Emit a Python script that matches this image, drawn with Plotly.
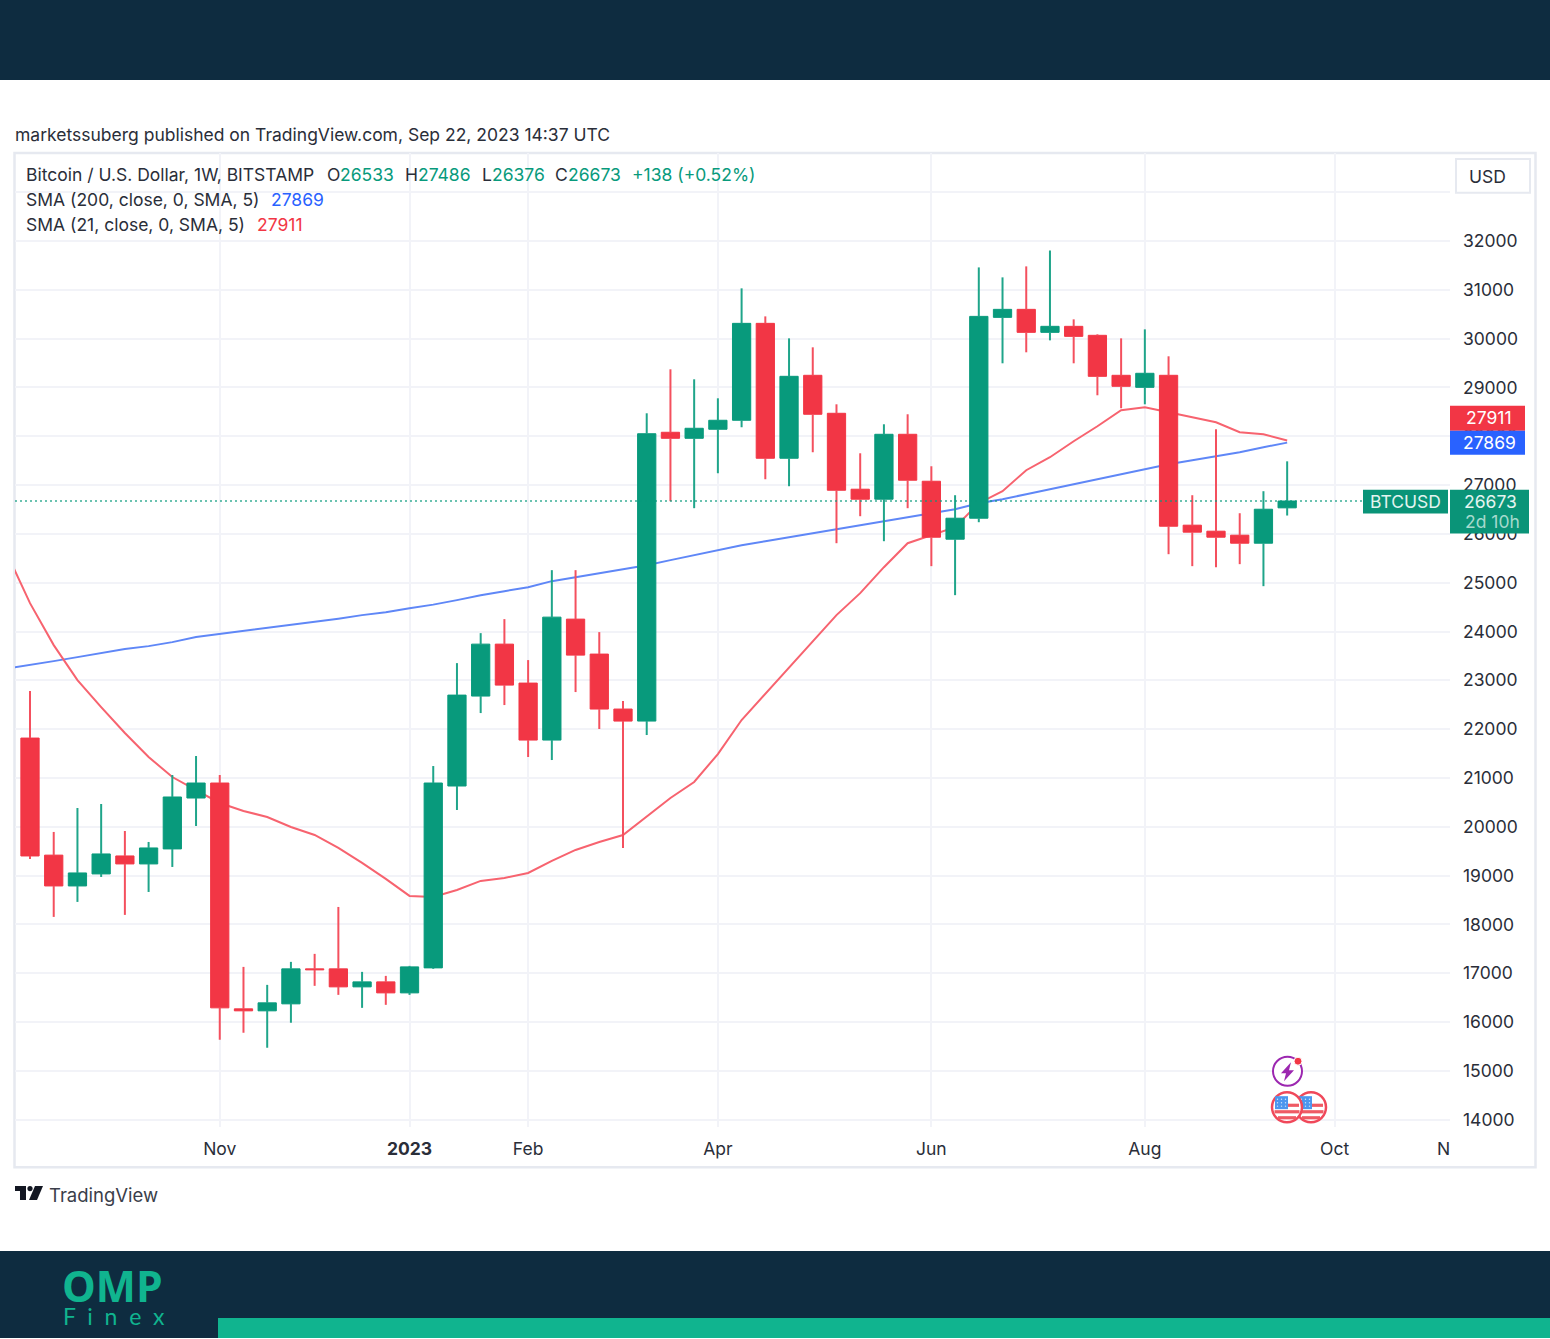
import pandas as pd
import plotly.graph_objects as go

W, H = 1550, 1339
first_week = "2022-09-12"
opens = [21818,19420,18789,19035,19403,19240,19547,20590,20897,16272,16231,16374,17091,17091,16722,16824,16599,17111,20836,22678,23742,22944,21777,24254,23538,22412,22166,28081,27958,28143,28327,30312,27549,29248,28470,26915,26710,28040,27078,25891,26321,30435,30599,30128,30251,30067,29248,29002,29248,26178,26055,25973,25809,26533]
highs = [22780,19895,20386,20468,19915,19690,21061,21450,21061,17131,16763,17234,17398,18359,17029,16947,17152,21245,23353,23967,24254,23415,25257,25257,23988,22576,28470,29371,29166,28777,31029,30455,30005,29821,28654,27651,28245,28450,27385,26792,31458,31254,31479,31806,30394,30087,30005,30189,29637,26792,28143,26423,26874,27486]
lows = [19342,18155,18462,18973,18196,18666,19178,20017,15637,15781,15474,15985,16743,16558,16292,16354,16558,17091,20345,22330,22494,21430,21368,22760,22003,19567,21880,26669,26526,27242,28184,27119,26976,27672,25809,26362,25850,26526,25339,24745,26239,29494,29719,29964,29494,28839,28573,28654,25584,25339,25318,25380,24929,26376]
closes = [19403,18789,19055,19444,19240,19567,20611,20897,16292,16231,16395,17091,17070,16722,16824,16599,17131,20897,22698,23742,22903,21777,24295,23517,22412,22166,28051,27958,28163,28327,30312,27549,29227,28450,26894,26710,28040,27099,25932,26321,30455,30599,30128,30251,30046,29227,29023,29289,26157,26035,25932,25809,26505,26673]

# Moving averages start one week before the first visible candle
sma21 = [25625,24581,23722,23005,22453,21921,21430,21020,20754,20488,20324,20202,19997,19833,19567,19260,18933,18585,18564,18707,18892,18953,19055,19301,19526,19690,19833,20202,20590,20918,21491,22187,22719,23272,23804,24336,24786,25318,25809,25973,26137,26628,26874,27304,27570,27897,28204,28532,28593,28491,28388,28286,28081,28040,27911]
sma200 = [23241,23312,23394,23476,23558,23640,23701,23783,23886,23947,24008,24070,24131,24193,24264,24336,24397,24479,24551,24643,24745,24827,24909,25032,25114,25195,25277,25359,25462,25564,25666,25769,25850,25932,26014,26096,26178,26260,26342,26423,26505,26628,26710,26812,26915,27017,27119,27222,27324,27426,27508,27590,27672,27774,27869]

price_ticks = list(range(14000, 34000, 1000))
price_labels = [str(p) if p != 33000 else "" for p in price_ticks]
month_ticks = ["2022-11-07", "2023-01-02", "2023-02-06", "2023-04-03", "2023-06-05", "2023-08-07", "2023-10-02"]
month_labels = ["Nov", "<b>2023</b>", "Feb", "Apr", "Jun", "Aug", "Oct"]

GREEN, RED, BLUE = "#089A7C", "#F23645", "#2962FF"
TXT = "#2A2E39"
FONT = "Inter"
NAVY = "#0E2C40"
TEAL = "#10B48F"
FS = 17.5

dates = pd.date_range(first_week, periods=len(opens), freq="7D")
sma_dates = pd.date_range(pd.Timestamp(first_week) - pd.Timedelta(days=7), periods=len(sma21), freq="7D")

# axis window: candle 0 at x=30 px, candle spacing 23.72 px, plot from x=15 to 1450 px
def week_at(px):
    return pd.Timestamp(first_week) + pd.Timedelta(days=7 * (px - 30) / 23.72)
x_left, x_right, y_top, y_bottom = 15, 1450, 153, 1128
price_at = lambda py: 14000 + (1120.6 - py) / 0.04886
body_ms = 0.77 * 7 * 86400000

def X(px): return px / W
def Y(py): return 1 - py / H

up = [c >= o for o, c in zip(opens, closes)]
def wick_series(is_up):
    xs, ys = [], []
    for d, o, h, l, c, u in zip(dates, opens, highs, lows, closes, up):
        if u == is_up:
            xs += [d, d, None, d, d, None]
            ys += [h, max(o, c), None, min(o, c), l, None]
    return xs, ys

fig = go.Figure()
fig.add_trace(go.Scatter(x=sma_dates, y=sma200, mode="lines", line=dict(color="#5F87F7", width=2), hoverinfo="skip"))
fig.add_trace(go.Scatter(x=sma_dates, y=sma21, mode="lines", line=dict(color="#F7636F", width=2), hoverinfo="skip"))
fig.add_trace(go.Bar(x=dates, y=[abs(c - o) for o, c in zip(opens, closes)], base=[min(o, c) for o, c in zip(opens, closes)],
                     width=body_ms, marker=dict(color=[GREEN if u else RED for u in up], line=dict(width=1, color=[GREEN if u else RED for u in up])),
                     xaxis="x2", yaxis="y2", hoverinfo="skip"))
for is_up, col in ((True, "#1FA58A"), (False, "#F4505E")):
    wx, wy = wick_series(is_up)
    fig.add_trace(go.Scatter(x=wx, y=wy, mode="lines", line=dict(color=col, width=2), xaxis="x2", yaxis="y2", hoverinfo="skip"))
fig.add_trace(go.Scatter(x=[week_at(x_left), week_at(1363)], y=[closes[-1], closes[-1]], mode="lines", xaxis="x2", yaxis="y2",
                         line=dict(color="rgba(8,154,124,0.8)", width=1.6, dash="2px 3px"), hoverinfo="skip"))

def rect(x0, y0, x1, y1, fill, line=None, lw=0, layer="above"):
    return dict(type="rect", xref="paper", yref="paper", x0=X(x0), x1=X(x1), y0=Y(y1), y1=Y(y0),
                fillcolor=fill, line=dict(color=line or fill, width=lw), layer=layer)
def circle(cx, cy, r, fill, line, lw):
    return dict(type="circle", xref="paper", yref="paper", x0=X(cx - r), x1=X(cx + r), y0=Y(cy + r), y1=Y(cy - r),
                fillcolor=fill, line=dict(color=line, width=lw), layer="above")
def poly(points, fill):
    path = "M " + " L ".join(f"{X(a):.5f} {Y(b):.5f}" for a, b in points) + " Z"
    return dict(type="path", xref="paper", yref="paper", path=path, fillcolor=fill, line=dict(width=0), layer="above")

shapes = [
    rect(0, 0, W, 80, NAVY), rect(0, 1252, W, H, NAVY), rect(218, 1319, W, H, TEAL),
    rect(14.5, 153, 1535.5, 1168, "rgba(0,0,0,0)", "#E6E9F0", 2.5, "below"),
    rect(1456, 159, 1530, 193, "#FFFFFF", "#E6E9F0", 2),
    rect(1450, 406, 1525, 431, RED), rect(1450, 431, 1525, 455, BLUE),
    rect(1363, 490, 1448, 514, "#0A9478"), rect(1450, 490, 1529, 534, "#0A9478"),
    # event icons
    circle(1287.5, 1072, 14.5, "#FFFFFF", "#9C27B0", 2),
    poly([(1291, 1063), (1281, 1074), (1286, 1074), (1284, 1082), (1294, 1071), (1289, 1071)], "#9C27B0"),
    circle(1298, 1062, 4, RED, "#FFFFFF", 1),
]
for cx in (1311, 1287):
    shapes.append(circle(cx, 1108, 15, "#FFFFFF", "#F0485A", 2.5))
    for top, half in ((1104.5, 12), (1111, 12.5), (1117, 9)):
        shapes.append(rect(cx - half, top, cx + half, top + 3.2, "#EF5A64"))
    shapes.append(rect(cx - 12, 1097, cx + 1, 1110, "#4C96EE"))
    for ax in (cx - 9.5, cx - 5.5, cx - 1.5):
        for ay in (1100, 1103.5, 1107):
            shapes.append(circle(ax, ay, 0.7, "#CFE3FA", "#CFE3FA", 0))
# TradingView mark
shapes += [
    poly([(15, 1187), (26, 1187), (26, 1201), (20, 1201), (20, 1192), (15, 1192)], "#131722"),
    circle(30, 1189.5, 2.6, "#131722", "#131722", 0),
    poly([(35, 1187), (43, 1187), (37, 1201), (29, 1201)], "#131722"),
]
fig.update_layout(shapes=shapes)

def label(text, x, y, size=FS, color=TXT, anchor="left", family=FONT):
    if anchor == "left":
        x -= 2
    fig.add_annotation(text=text, xref="paper", yref="paper", x=X(x), y=Y(y), xanchor=anchor, yanchor="middle",
                       showarrow=False, font=dict(size=size, color=color, family=family), align=anchor)

label("marketssuberg published on TradingView.com, Sep 22, 2023 14:37 UTC", 15, 135)
label("Bitcoin / U.S. Dollar, 1W, BITSTAMP", 26, 175)
for name, val, xn, xv in [("O", opens[-1], 327, 340), ("H", highs[-1], 405, 418), ("L", lows[-1], 482, 492), ("C", closes[-1], 555, 568)]:
    label(name, xn, 175)
    label(str(val), xv, 175, color=GREEN)
label("+138 (+0.52%)", 632, 175, color=GREEN)
label("SMA (200, close, 0, SMA, 5)", 26, 200)
label(str(sma200[-1]), 271, 200, color=BLUE)
label("SMA (21, close, 0, SMA, 5)", 26, 225)
label(str(sma21[-1]), 257, 225, color=RED)
label("USD", 1487, 177, anchor="center")
label(str(sma21[-1]), 1489, 418, color="#FFFFFF", anchor="center")
label(str(sma200[-1]), 1489, 443, color="#FFFFFF", anchor="center")
label("BTCUSD", 1405, 502, color="#E4F4F0", anchor="center")
label(str(closes[-1]), 1490, 502, color="#E4F4F0", anchor="center")
label("2d 10h", 1492, 522, color="#A5DACD", anchor="center")
label("N", 1443, 1149, anchor="center")
label("TradingView", 49, 1196, 18.5, "#3A3E4A")
label("<b>OMP</b>", 112.5, 1286, 42.5, TEAL, "center", "Open Sans")
label("F  i  n  e  x", 113.5, 1317, 23, TEAL, "center", "Lato")

ax_x = dict(domain=[X(x_left), X(x_right)], range=[week_at(x_left), week_at(x_right)], type="date")
ax_y = dict(domain=[Y(y_bottom), Y(y_top)], range=[price_at(y_bottom), price_at(y_top)])
fig.update_layout(
    width=W, height=H + 2, margin=dict(l=0, r=0, t=0, b=0), autosize=False,
    paper_bgcolor="#FFFFFF", plot_bgcolor="#FFFFFF", showlegend=False,
    font=dict(family=FONT, size=FS, color=TXT),
    xaxis=dict(**ax_x, tickmode="array", tickvals=month_ticks, ticktext=month_labels, ticks="", showline=False, zeroline=False,
               gridcolor="#F2F3F8", gridwidth=1.5, anchor="y", tickfont=dict(size=FS, color=TXT), ticklabelstandoff=9),
    yaxis=dict(**ax_y, side="right", anchor="x", tickmode="array", tickvals=price_ticks, ticktext=price_labels, ticks="",
               showline=False, zeroline=False, gridcolor="#F2F3F8", gridwidth=1.5, tickfont=dict(size=FS, color=TXT), ticklabelstandoff=12),
    xaxis2=dict(**ax_x, overlaying="x", anchor="y2", visible=False),
    yaxis2=dict(**ax_y, overlaying="y", anchor="x2", side="right", visible=False),
)
fig.write_html("out.html", config=dict(displayModeBar=False), post_script="document.body.style.margin='0';document.documentElement.style.overflow='hidden';")
